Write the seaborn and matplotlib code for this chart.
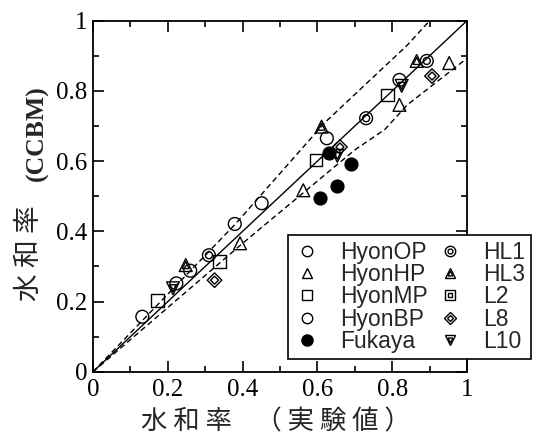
import matplotlib
matplotlib.use("Agg")
import matplotlib.pyplot as plt
from matplotlib.lines import Line2D
import pandas as pd
import seaborn as sns

# 読み取った値
hyon_op_x = [0.132, 0.223, 0.379, 0.451, 0.625, 0.819]
hyon_op_y = [0.157, 0.252, 0.421, 0.480, 0.665, 0.831]
hyon_hp_x = [0.393, 0.562, 0.819, 0.952]
hyon_hp_y = [0.366, 0.517, 0.760, 0.879]
hyon_mp_x = [0.172, 0.339, 0.596, 0.788]
hyon_mp_y = [0.204, 0.315, 0.603, 0.788]
hyon_bp_x = [0.260]
hyon_bp_y = [0.288]
fukaya_x = [0.607, 0.651, 0.690, 0.632]
fukaya_y = [0.494, 0.530, 0.591, 0.622]
hl1_x = [0.310, 0.730, 0.892]
hl1_y = [0.332, 0.722, 0.885]
hl3_x = [0.248, 0.611, 0.865]
hl3_y = [0.304, 0.698, 0.885]
l2_x = []
l2_y = []
l8_x = [0.325, 0.660, 0.906]
l8_y = [0.261, 0.640, 0.842]
l10_x = [0.214, 0.653, 0.825]
l10_y = [0.238, 0.615, 0.814]

diag = [0, 1]
upper_x = [0, 0.38, 0.62, 0.84, 0.90]
upper_y = [0, 0.42, 0.71, 0.93, 1.00]
lower_x = [0, 0.40, 0.70, 0.78, 0.84, 1.00]
lower_y = [0, 0.366, 0.632, 0.69, 0.76, 0.893]

tick_vals = [0, 0.2, 0.4, 0.6, 0.8, 1]
tick_text = ['0', '0.2', '0.4', '0.6', '0.8', '1']

sns.set_style('ticks')
plt.rcParams['font.family'] = ['Liberation Serif', 'Noto Sans CJK JP']

fig = plt.figure(figsize=(5.37, 4.37), dpi=100)
ax = fig.add_axes([0.173, 0.149, 0.697, 0.804])

sns.lineplot(x=diag, y=diag, ax=ax, color='black', lw=1.0)
sns.lineplot(x=upper_x, y=upper_y, ax=ax, color='black', lw=1.0, sort=False)
sns.lineplot(x=lower_x, y=lower_y, ax=ax, color='black', lw=1.0, sort=False)
for ln in ax.lines[1:]:
    ln.set_dashes((4, 2.5))

# (name, xs, ys, outer marker, inner marker, filled)
series = [
    ('HyonOP', hyon_op_x, hyon_op_y, 'o', None, False),
    ('HyonHP', hyon_hp_x, hyon_hp_y, '^', None, False),
    ('HyonMP', hyon_mp_x, hyon_mp_y, 's', None, False),
    ('HyonBP', hyon_bp_x, hyon_bp_y, 'o', None, False),
    ('Fukaya', fukaya_x, fukaya_y, 'o', None, True),
    ('HL1', hl1_x, hl1_y, 'o', 'o', False),
    ('HL3', hl3_x, hl3_y, '^', '^', False),
    ('L2', l2_x, l2_y, 's', 's', False),
    ('L8', l8_x, l8_y, 'D', 'D', False),
    ('L10', l10_x, l10_y, 'v', 'v', False),
]

handles = []
for name, xs, ys, m, inner, filled in series:
    fc = 'black' if filled else 'none'
    size = 85 if m != 'D' else 55
    if len(xs) > 0:
        d = pd.DataFrame({'x': xs, 'y': ys})
        sns.scatterplot(data=d, x='x', y='y', ax=ax, marker=m, s=size,
                        facecolor=fc, edgecolor='black', linewidth=1.0, zorder=3)
        if inner:
            sns.scatterplot(data=d, x='x', y='y', ax=ax, marker=inner, s=size * 0.3,
                            facecolor='none', edgecolor='black', linewidth=1.0, zorder=4)
    ms = 8 if filled else (7.5 if m != 'D' else 6.5)
    h = Line2D([], [], ls='none', marker=m, ms=ms, mfc=fc, mec='black', mew=1.0)
    if inner:
        h2 = Line2D([], [], ls='none', marker=inner, ms=3.5 if m != 'D' else 3, mfc='none', mec='black', mew=1.0)
        h = (h, h2)
    handles.append(h)

ax.set_xlim(0, 1)
ax.set_ylim(0, 1)
ax.set_xticks(tick_vals)
ax.set_xticklabels(tick_text, family='Liberation Serif')
ax.set_yticks(tick_vals)
ax.set_yticklabels(tick_text, family='Liberation Serif')
ax.set_xticks([0.1, 0.3, 0.5, 0.7, 0.9], minor=True)
ax.set_yticks([0.1, 0.3, 0.5, 0.7, 0.9], minor=True)
ax.tick_params(which='both', direction='in', top=True, right=True, width=1.2, colors='black')
ax.tick_params(which='major', length=8, labelsize=18)
ax.tick_params(axis='x', which='major', pad=5)
ax.tick_params(axis='y', which='major', pad=4)
ax.tick_params(which='minor', length=4.5)
for sp in ax.spines.values():
    sp.set_linewidth(1.3)
    sp.set_color('black')

# 軸ラベル
ax.set_xlabel('水 和 率    （ 実 験 値 ）', fontsize=19, family=['Noto Sans CJK JP'])
ax.xaxis.set_label_coords(0.49, -0.104)
ax.xaxis.label.set_va('top')
ax.set_ylabel('')
fig.text(28.5 / 537, 1 - 253 / 437, '水 和 率', rotation=90, ha='center', va='center',
         fontsize=20, family=['Noto Sans CJK JP'])
fig.text(37 / 537, 1 - 133 / 437, '(CCBM)', rotation=90, ha='center', va='center',
         fontsize=18.5, fontweight='bold', family=['Liberation Serif'])

leg = ax.legend(handles, [s[0] for s in series], ncol=2, loc='upper left',
                bbox_to_anchor=(0.536, 0.462), bbox_transform=fig.transFigure,
                frameon=True, fancybox=False, framealpha=1, edgecolor='black',
                prop={'family': 'Liberation Sans', 'size': 16.5},
                handlelength=1.2, handletextpad=0.85, columnspacing=0.35,
                labelspacing=-0.03, borderpad=0.25, borderaxespad=0)
leg.get_frame().set_linewidth(1.2)

fig.savefig('out.png', dpi=100)
